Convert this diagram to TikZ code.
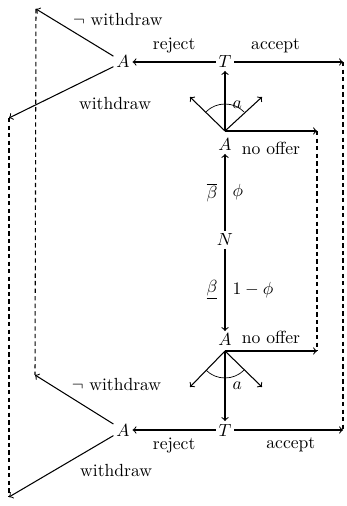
\documentclass[tikz,border=0pt]{standalone}
\usetikzlibrary{positioning}
\begin{document}
\begin{tikzpicture}[
    x=0.02cm, y=0.02cm,
    player/.style={inner sep=1.5pt},
    edge/.style={->, semithick},
    info/.style={semithick, dash pattern=on 2.5pt off 1.8pt},
    lbl/.style={inner sep=1pt}
]
\useasboundingbox (0,0) rectangle (346,506);

% upper branch
\node[player] (Tt) at (225,444) {$T$};
\node[player] (At) at (123,444) {$A$};
\node[player] (Am) at (225,361) {$A$};
\coordinate (Ot)   at (225,375);
\coordinate (acct) at (343,444);
\coordinate (nwt)  at (36,497);
\coordinate (wt)   at (9,388);
\coordinate (dlt)  at (190,409);
\coordinate (drt)  at (262,409);
\coordinate (not)  at (317,375);

% chance
\node[player] (N) at (225,266) {$N$};

% lower branch
\node[player] (Ab) at (225,166) {$A$};
\node[player] (Tb) at (225,76)  {$T$};
\node[player] (Al) at (123,76)  {$A$};
\coordinate (Ob)   at (225,155);
\coordinate (accb) at (343,76);
\coordinate (nwb)  at (35,131);
\coordinate (wb)   at (9,9);
\coordinate (dlb)  at (190,119);
\coordinate (drb)  at (262,119);
\coordinate (nob)  at (317,155);

\draw[edge] (N) -- node[lbl,left=3pt]{$\overline{\beta}$} node[lbl,right=3pt]{$\phi$} (Am);
\draw[edge] (N) -- node[lbl,left=3pt]{$\underline{\beta}$} node[lbl,right=3pt]{$1-\phi$} (Ab);

\draw[edge] (Ot) -- node[lbl,pos=0.43,right=3pt]{$a$} (Tt);
\draw[edge] (Ot) -- (dlt);
\draw[edge] (Ot) -- (drt);
\draw (Ot) ++(135:27) arc[start angle=135, end angle=45, radius=27];
\draw[edge] (Ot) -- node[lbl,below=5pt]{no offer} (not);

\draw[edge] (Tt) -- node[lbl,above=4pt]{reject} (At);
\draw[edge] (Tt) -- node[lbl,pos=0.38,above=4pt]{accept} (acct);
\draw[edge] (At) -- node[lbl,pos=0.55,anchor=south west,yshift=1pt]{$\neg$ withdraw} (nwt);
\draw[edge] (At) -- node[lbl,pos=0.35,anchor=north west,yshift=-6pt]{withdraw} (wt);

\draw[edge] (Ob) -- node[lbl,pos=0.5,right=3pt]{$a$} (Tb);
\draw[edge] (Ob) -- (dlb);
\draw[edge] (Ob) -- (drb);
\draw (Ob) ++(225:27) arc[start angle=225, end angle=315, radius=27];
\draw[edge] (Ob) -- node[lbl,above=3pt]{no offer} (nob);

\draw[edge] (Tb) -- node[lbl,below=3pt]{reject} (Al);
\draw[edge] (Tb) -- node[lbl,pos=0.52,below=3pt]{accept} (accb);
\draw[edge] (Al) -- node[lbl,pos=0.56,anchor=south west,yshift=2pt]{$\neg$ withdraw} (nwb);
\draw[edge] (Al) -- node[lbl,pos=0.34,anchor=north west,yshift=-3pt]{withdraw} (wb);

% information sets
\draw[info] (nwt) -- (nwb);
\draw[info] (wt) -- (wb);
\draw[info] (acct) -- (accb);
\draw[info] (not) -- (nob);

\end{tikzpicture}
\end{document}
